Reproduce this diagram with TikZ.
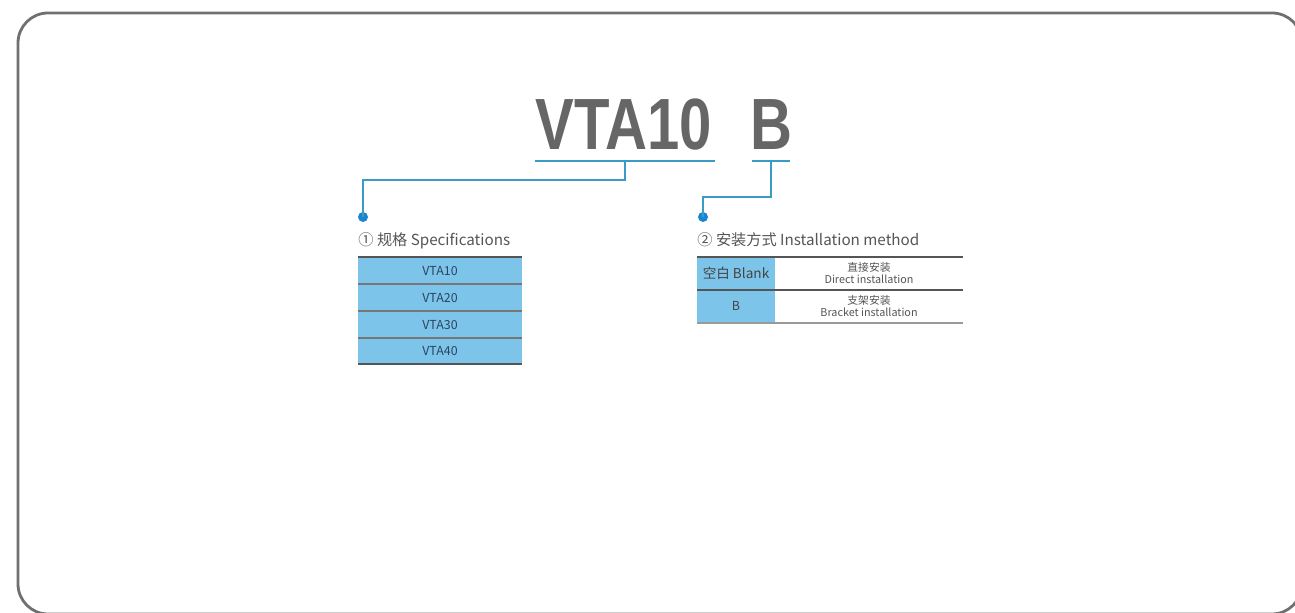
\documentclass[tikz,border=0pt]{standalone}
\usepackage{fontspec}
\setmainfont{Liberation Sans}
\newfontfamily\cjk{Noto Sans CJK SC}
\definecolor{frame}{HTML}{707070}
\definecolor{titlegray}{HTML}{666666}
\definecolor{linkblue}{HTML}{3A9CC4}
\definecolor{dotblue}{HTML}{1A86D0}
\definecolor{cellblue}{HTML}{7CC4EA}
\definecolor{celltext}{HTML}{2C4660}
\definecolor{rule}{HTML}{555555}
\definecolor{rulelight}{HTML}{9A9A9A}
\definecolor{labeltext}{HTML}{555555}
\tikzset{
  titletext/.style={inner sep=0pt, anchor=base, text=titlegray, font=\fontsize{36.3}{40}\selectfont\bfseries},
  link/.style={draw=linkblue, line width=0.9pt},
  dotmark/.style={circle, fill=dotblue, inner sep=0pt, minimum size=5pt},
  lbl/.style={inner sep=0pt, anchor=base west, text=labeltext, font=\cjk\fontsize{7.6}{8.5}\selectfont},
  celltxt/.style={inner sep=0pt, text=celltext, font=\cjk\fontsize{6.2}{7}\selectfont},
  desctxt/.style={inner sep=0pt, text=labeltext, align=center, font=\cjk\fontsize{5.4}{6.4}\selectfont},
  thickrule/.style={draw=rule, line width=1.1pt},
  thinrule/.style={draw=rulelight, line width=0.6pt},
}
\begin{document}
\begin{tikzpicture}[x=0.5pt,y=-0.5pt]
\useasboundingbox (0,0) rectangle (1295,613);
\fill[white] (0,0) rectangle (1295,613);
% frame
\draw[frame, line width=1.4pt, rounded corners=15pt] (18,13) rectangle (1302,614);
% title
\node[titletext] (t1) at (624,150) {\scalebox{0.8}[1]{VTA10}};
\node[titletext] (t2) at (771,150) {\scalebox{0.8}[1]{B}};
% underline coordinates
\coordinate (u1l) at (535,161);
\coordinate (u1r) at (715,161);
\coordinate (u1m) at (625,161);
\coordinate (u2l) at (752,161);
\coordinate (u2r) at (790,161);
\coordinate (u2m) at (771,161);
\draw[link] (u1l) -- (u1r);
\draw[link] (u2l) -- (u2r);
\node[dotmark] (d1) at (363,217) {};
\node[dotmark] (d2) at (703,217) {};
\draw[link] (u1m) |- (363,180) -- (d1.center);
\draw[link] (u2m) |- (703,197) -- (d2.center);
% left label
\node[lbl] (l1) at (358,246) {① 规格 Specifications};
% left table
\fill[cellblue] (358,257) rectangle (522,364);
\draw[thickrule] (358,257) -- (522,257);
\draw[thinrule, draw=rule!80] (358,284) -- (522,284);
\draw[thinrule, draw=rule!80] (358,311) -- (522,311);
\draw[thinrule, draw=rule!80] (358,338) -- (522,338);
\draw[thickrule] (358,364) -- (522,364);
\node[celltxt] (s1) at (440,271) {VTA10};
\node[celltxt] (s2) at (440,298) {VTA20};
\node[celltxt] (s3) at (440,325) {VTA30};
\node[celltxt] (s4) at (440,351) {VTA40};
% right label
\node[lbl] (l2) at (697,246) {② 安装方式 Installation method};
% right table
\fill[cellblue] (697,257) rectangle (775,323);
\draw[thickrule] (697,257) -- (963,257);
\draw[thinrule, draw=rule] (697,290) -- (963,290);
\draw[thinrule] (697,323) -- (963,323);
\node[celltxt, text=labeltext!80!black, font=\cjk\fontsize{6.8}{8}\selectfont] (m1) at (736,273) {空白 Blank};
\node[celltxt, text=labeltext!80!black] (m2) at (736,306) {B};
\node[desctxt] (n1) at (869,273) {直接安装\\Direct installation};
\node[desctxt] (n2) at (869,306) {支架安装\\Bracket installation};
\end{tikzpicture}
\end{document}
